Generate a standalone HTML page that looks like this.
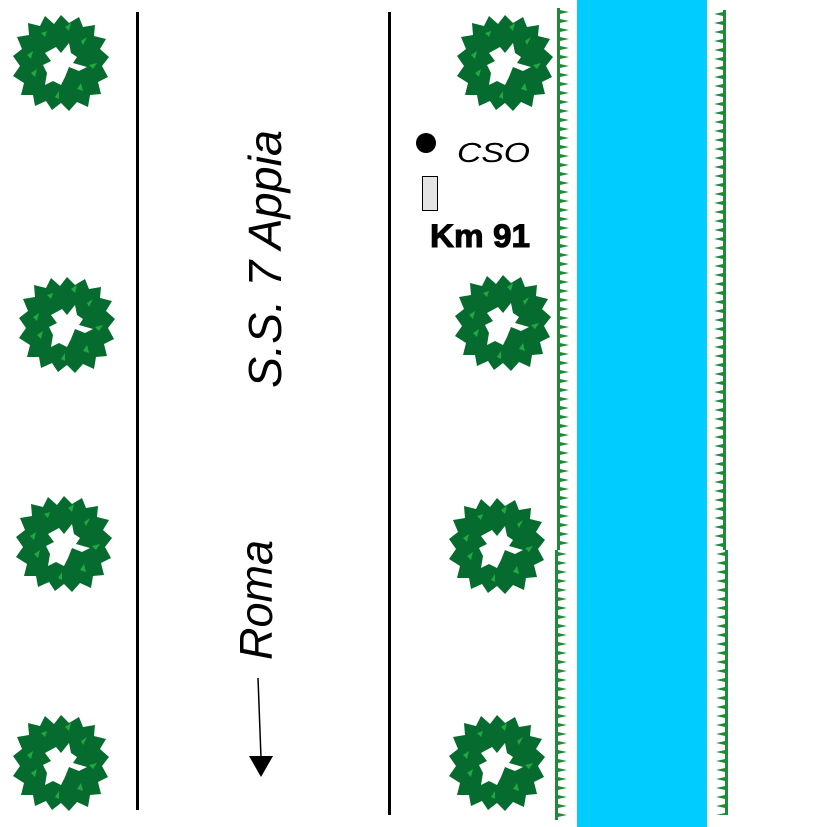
<!DOCTYPE html>
<html><head><meta charset="utf-8"><style>html,body{margin:0;padding:0;background:#fff}svg{display:block}</style></head>
<body>
<svg width="827" height="827" viewBox="0 0 827 827" xmlns="http://www.w3.org/2000/svg">
<defs>
<g id="tree">
<polygon fill="#066b2e" points="0,-48 8,-40 18,-46 22,-36 34,-38 33,-27 45,-24 39,-14 48,-6 41,3 47,14 37,19 40,31 29,32 27,44 16,39 8,48 0,40 -9,47 -15,38 -26,43 -28,32 -40,32 -37,20 -48,13 -41,3 -48,-7 -39,-14 -44,-26 -32,-28 -33,-40 -21,-37 -16,-47 -7,-39"/>
<polygon fill="#fff" points="-5,-16 0,-10 8,-20 10,-10 16,-6 12,0 26,4 18,8 8,4 4,14 0,22 -8,18 -16,22 -14,10 -18,2 -10,-2 -16,-10"/>
<g fill="#23a840">
<polygon points="-20,-30 -14,-32 -16,-26"/><polygon points="20,-22 26,-26 22,-18"/><polygon points="28,2 36,0 32,6"/><polygon points="-30,10 -24,6 -26,14"/><polygon points="-6,34 -2,28 -2,36"/><polygon points="16,26 20,20 22,28"/><polygon points="-34,-8 -28,-12 -30,-4"/><polygon points="4,-36 10,-40 8,-32"/>
</g>
</g>
<pattern id="fl1" x="556" y="8" width="14" height="9" patternUnits="userSpaceOnUse">
<path d="M1,0 L4,0 L4,2 L13,4 L4,6 L4,9 L1,9 Z" fill="#1f8a3a"/>
</pattern>
<pattern id="fl2" x="554" y="550" width="14" height="9" patternUnits="userSpaceOnUse">
<path d="M1,0 L4,0 L4,2 L13,4 L4,6 L4,9 L1,9 Z" fill="#1f8a3a"/>
</pattern>
<pattern id="fr1" x="713" y="10" width="14" height="9" patternUnits="userSpaceOnUse">
<path d="M13,0 L10,0 L10,2 L1,4 L10,6 L10,9 L13,9 Z" fill="#1f8a3a"/>
</pattern>
<pattern id="fr2" x="715" y="550" width="14" height="9" patternUnits="userSpaceOnUse">
<path d="M13,0 L10,0 L10,2 L1,4 L10,6 L10,9 L13,9 Z" fill="#1f8a3a"/>
</pattern>
</defs>
<rect x="577" y="0" width="130" height="827" fill="#00ccff"/>
<rect x="556" y="8" width="14" height="542" fill="url(#fl1)"/>
<rect x="554" y="550" width="14" height="270" fill="url(#fl2)"/>
<rect x="713" y="10" width="14" height="540" fill="url(#fr1)"/>
<rect x="715" y="550" width="14" height="265" fill="url(#fr2)"/>
<rect x="136" y="12" width="3" height="798" fill="#000"/>
<rect x="388" y="12" width="3" height="803" fill="#000"/>
<use href="#tree" x="61" y="63"/>
<use href="#tree" x="505" y="63"/>
<use href="#tree" x="67" y="325"/>
<use href="#tree" x="503" y="323"/>
<use href="#tree" x="64" y="544"/>
<use href="#tree" x="497" y="546"/>
<use href="#tree" x="61" y="763"/>
<use href="#tree" x="497" y="763"/>
<text transform="translate(281,388) rotate(-90)" font-family="Liberation Sans, sans-serif" font-style="italic" font-size="46" textLength="258" lengthAdjust="spacingAndGlyphs">S.S. 7 Appia</text>
<text transform="translate(272,660) rotate(-90)" font-family="Liberation Sans, sans-serif" font-style="italic" font-size="46" textLength="120" lengthAdjust="spacingAndGlyphs">Roma</text>
<line x1="258" y1="678" x2="261" y2="758" stroke="#000" stroke-width="1.5"/>
<polygon points="249,756 273,756 261,777" fill="#000"/>
<circle cx="426" cy="143" r="10" fill="#000"/>
<text x="457" y="162" font-family="Liberation Sans, sans-serif" font-style="italic" font-size="28" textLength="73" lengthAdjust="spacingAndGlyphs">CSO</text>
<rect x="422.5" y="176.5" width="15" height="34" fill="#e4e4e4" stroke="#000" stroke-width="1"/>
<text x="430" y="247" font-family="Liberation Sans, sans-serif" font-weight="bold" font-size="32" stroke="#000" stroke-width="1" textLength="100" lengthAdjust="spacingAndGlyphs">Km 91</text>
</svg>
</body></html>
